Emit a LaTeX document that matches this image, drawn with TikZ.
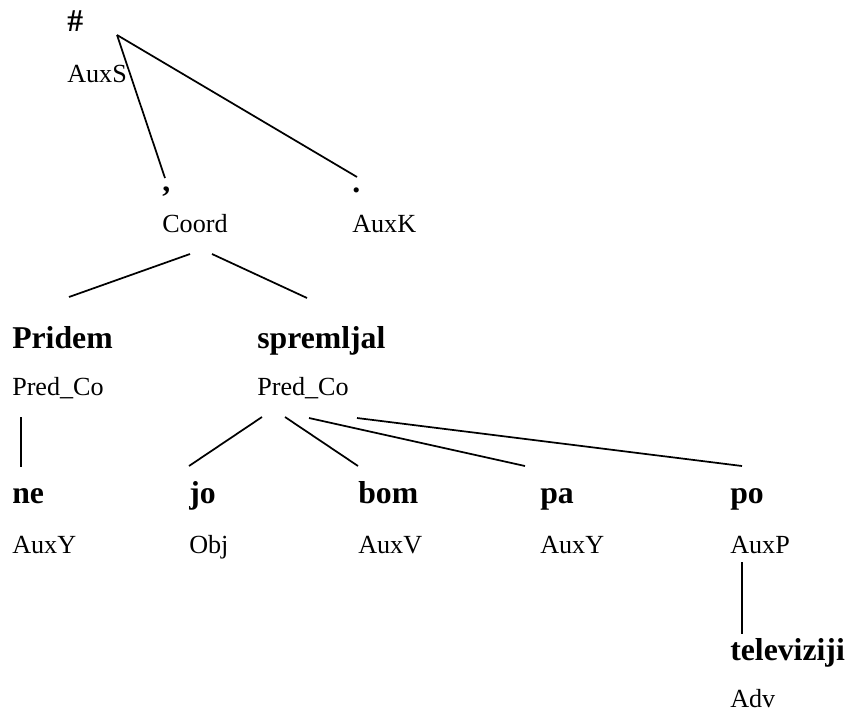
\documentclass[tikz,border=0pt]{standalone}
\usepackage{fontspec}
\setmainfont{Liberation Serif}
\begin{document}
\begin{tikzpicture}[x=0.75pt,y=-0.75pt,
  word/.style={anchor=base west,inner sep=0pt,font=\fontsize{23.8}{28}\selectfont\bfseries},
  func/.style={anchor=base west,inner sep=0pt,font=\fontsize{19.6}{23}\selectfont},
  edge/.style={line width=1.3pt}]
\useasboundingbox (0,0) rectangle (848,713);

% root
\node[word] (root) at (67,32) {\#};
\node[func] (rootf) at (67,83) {AuxS};
\coordinate (root-b) at (117,35);

% level 1
\node[word] (comma) at (162,191) {,};
\node[func] (commaf) at (162,232) {Coord};
\coordinate (comma-t) at (165,178);
\coordinate (comma-bl) at (190,254);
\coordinate (comma-br) at (212,254);

\node[word] (period) at (352,192) {.};
\node[func] (periodf) at (352,232) {AuxK};
\coordinate (period-t) at (357,177);

% level 2
\node[word] (pridem) at (12,348) {Pridem};
\node[func] (pridemf) at (12,395) {Pred\_Co};
\coordinate (pridem-t) at (69,297);
\coordinate (pridem-b) at (21,417);

\node[word] (spreml) at (257,348) {spremljal};
\node[func] (spremlf) at (257,395) {Pred\_Co};
\coordinate (spreml-t) at (307,298);
\coordinate (spreml-b1) at (262,417);
\coordinate (spreml-b2) at (285,417);
\coordinate (spreml-b3) at (309,418);
\coordinate (spreml-b4) at (357,418);

% level 3
\node[word] (ne) at (12,503) {ne};
\node[func] (nef) at (12,553) {AuxY};
\coordinate (ne-t) at (21,467);

\node[word] (jo) at (189,503) {jo};
\node[func] (jof) at (189,553) {Obj};
\coordinate (jo-t) at (189,466);

\node[word] (bom) at (358,503) {bom};
\node[func] (bomf) at (358,553) {AuxV};
\coordinate (bom-t) at (358,466);

\node[word] (pa) at (540,503) {pa};
\node[func] (paf) at (540,553) {AuxY};
\coordinate (pa-t) at (525,466);

\node[word] (po) at (730,503) {po};
\node[func] (pof) at (730,553) {AuxP};
\coordinate (po-t) at (742,466);
\coordinate (po-b) at (742,562);

% level 4
\node[word] (tv) at (730,660) {televiziji};
\node[func] (tvf) at (730,707) {Adv};
\coordinate (tv-t) at (742,634);

% dependency edges
\draw[edge] (root-b) -- (comma-t);
\draw[edge] (root-b) -- (period-t);
\draw[edge] (comma-bl) -- (pridem-t);
\draw[edge] (comma-br) -- (spreml-t);
\draw[edge] (pridem-b) -- (ne-t);
\draw[edge] (spreml-b1) -- (jo-t);
\draw[edge] (spreml-b2) -- (bom-t);
\draw[edge] (spreml-b3) -- (pa-t);
\draw[edge] (spreml-b4) -- (po-t);
\draw[edge] (po-b) -- (tv-t);
\end{tikzpicture}
\end{document}
